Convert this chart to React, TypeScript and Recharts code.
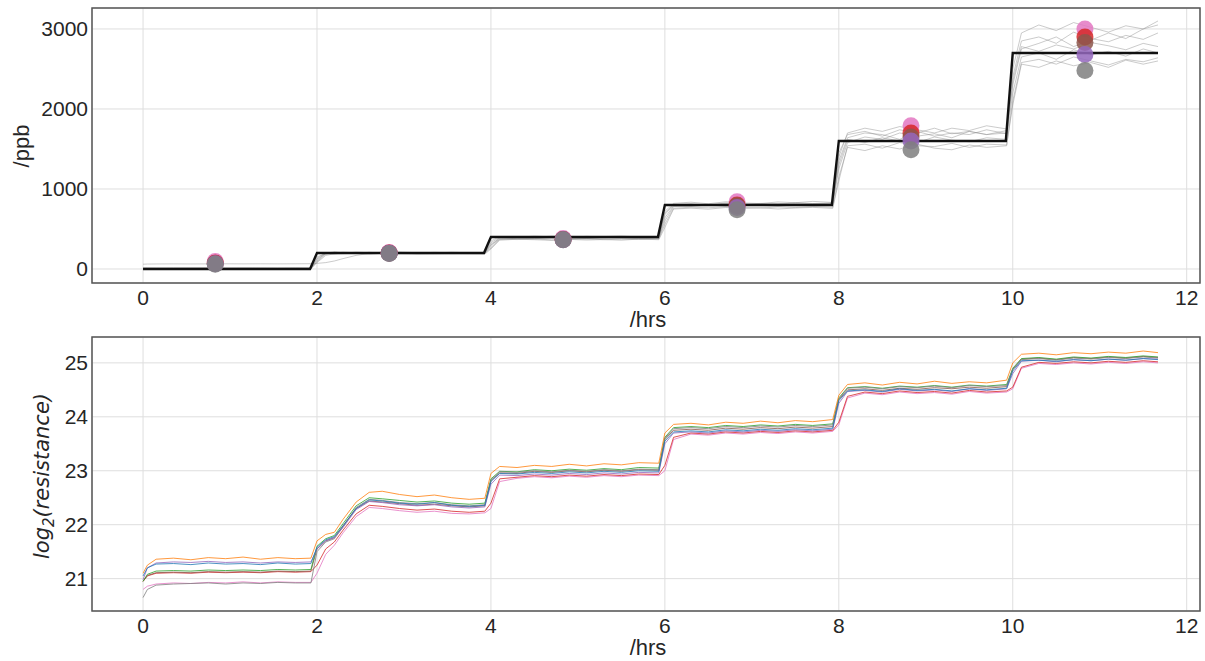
import { ComposedChart, LineChart, Line, Scatter, XAxis, YAxis, CartesianGrid, ReferenceArea, Label } from "recharts"

// shared time grid, hours
const hours = [
  0, 0.05, 0.15, 0.35, 0.55, 0.75, 0.95, 1.15, 1.35, 1.55, 1.75, 1.93,
  2.0, 2.1, 2.2, 2.3, 2.45, 2.6, 2.75, 2.95, 3.15, 3.35, 3.55, 3.75, 3.93,
  4.0, 4.1, 4.3, 4.5, 4.7, 4.9, 5.1, 5.3, 5.5, 5.7, 5.93,
  6.0, 6.1, 6.3, 6.5, 6.7, 6.9, 7.1, 7.3, 7.5, 7.7, 7.93,
  8.0, 8.1, 8.3, 8.5, 8.7, 8.9, 9.1, 9.3, 9.5, 9.7, 9.93,
  10.0, 10.1, 10.3, 10.5, 10.7, 10.9, 11.1, 11.3, 11.5, 11.67,
]

// top panel: set concentration (black step)
const stepHours = [0, 1.92, 2.0, 3.92, 4.0, 5.92, 6.0, 7.92, 8.0, 9.92, 10.0, 11.67]
const stepPpb = [0, 0, 200, 200, 400, 400, 800, 800, 1600, 1600, 2700, 2700]

// top panel: reference analyser traces (grey)
const g1 = [
  60, 62, 63, 64, 63, 64, 65, 64, 65, 64, 65, 66,
  70, 80, 100, 130, 170, 195, 205, 200, 198, 202, 200, 197, 199,
  260, 370, 385, 378, 390, 383, 376, 381, 388, 379, 384,
  600, 780, 790, 805, 812, 798, 806, 820, 810, 815, 822,
  1250, 1580, 1650, 1620, 1700, 1660, 1690, 1640, 1720, 1680, 1700,
  2300, 2750, 2820, 2900, 2780, 2860, 2950, 2880, 3000, 3050,
]
const g2 = [
  5, 8, 6, 10, 7, 9, 6, 8, 10, 7, 9, 8,
  120, 190, 205, 198, 210, 203, 196, 207, 201, 195, 204, 199, 202,
  330, 395, 402, 396, 410, 404, 398, 405, 412, 401, 407,
  700, 805, 815, 798, 826, 812, 820, 808, 830, 818, 826,
  1400, 1700, 1760, 1720, 1780, 1740, 1700, 1760, 1730, 1790, 1750,
  2500, 2950, 3050, 2980, 3080, 3020, 2960, 3040, 3000, 3100,
]
const g3 = [
  0, 2, 0, 3, 1, 0, 2, 1, 0, 2, 1, 0,
  150, 195, 188, 192, 197, 190, 194, 199, 191, 187, 195, 190, 193,
  300, 372, 368, 375, 364, 370, 378, 366, 372, 369, 375,
  560, 760, 772, 765, 778, 770, 762, 775, 768, 780, 772,
  1150, 1520, 1480, 1540, 1500, 1560, 1510, 1490, 1550, 1520, 1540,
  2100, 2580, 2620, 2560, 2650, 2600, 2550, 2620, 2590, 2640,
]
const g4 = [
  10, 12, 9, 11, 13, 10, 12, 11, 9, 12, 10, 11,
  90, 185, 210, 202, 195, 208, 200, 193, 206, 199, 203, 196, 201,
  280, 390, 380, 395, 386, 392, 380, 397, 388, 393, 386,
  640, 790, 782, 800, 788, 810, 795, 785, 803, 797, 808,
  1300, 1620, 1580, 1640, 1600, 1580, 1650, 1610, 1590, 1640, 1620,
  2200, 2650, 2700, 2620, 2740, 2680, 2720, 2660, 2750, 2700,
]
const g5 = [
  3, 5, 4, 6, 2, 5, 4, 3, 6, 4, 5, 3,
  100, 200, 212, 206, 200, 195, 210, 204, 198, 208, 202, 206, 200,
  350, 405, 398, 410, 402, 396, 408, 400, 394, 406, 399,
  720, 820, 835, 815, 840, 825, 818, 838, 828, 845, 832,
  1450, 1680, 1720, 1660, 1740, 1700, 1760, 1690, 1720, 1680, 1730,
  2400, 2850, 2900, 2820, 2960, 2880, 2840, 2920, 2870, 2950,
]
const g6 = [
  0, 0, 1, 0, 2, 1, 0, 1, 2, 0, 1, 0,
  80, 170, 190, 200, 194, 188, 196, 190, 186, 193, 188, 191, 187,
  250, 360, 372, 366, 358, 370, 362, 368, 360, 374, 366,
  520, 750, 760, 748, 768, 756, 765, 750, 762, 770, 758,
  1100, 1540, 1560, 1510, 1580, 1540, 1530, 1570, 1520, 1560, 1550,
  2050, 2560, 2520, 2600, 2540, 2580, 2520, 2610, 2560, 2600,
]
const g7 = [
  15, 14, 16, 13, 15, 17, 14, 16, 15, 13, 16, 14,
  130, 205, 198, 210, 203, 207, 199, 211, 204, 200, 209, 203, 206,
  310, 384, 392, 380, 396, 388, 384, 394, 390, 382, 392,
  680, 800, 808, 795, 815, 802, 810, 798, 818, 806, 814,
  1350, 1640, 1700, 1680, 1620, 1720, 1660, 1700, 1680, 1740, 1690,
  2350, 2780, 2720, 2800, 2750, 2830, 2790, 2740, 2820, 2780,
]
const greyKeys = ["g1", "g2", "g3", "g4", "g5", "g6", "g7"]

// top panel: sensor estimates per step
const dotHours = [0.83, 2.83, 4.83, 6.83, 8.83, 10.83]
const pinkDots = [95, 205, 380, 840, 1790, 3000]
const redDots = [75, 200, 370, 800, 1700, 2900]
const brownDots = [70, 198, 368, 790, 1650, 2830]
const purpleDots = [65, 196, 366, 770, 1600, 2680]
const greyDots = [60, 195, 365, 740, 1490, 2480]

// bottom panel: log2(resistance) per sensor
const orange = [
  21.10, 21.25, 21.36, 21.38, 21.35, 21.39, 21.37, 21.40, 21.36, 21.39, 21.37, 21.38,
  21.70, 21.82, 21.86, 22.10, 22.42, 22.60, 22.62, 22.56, 22.52, 22.55, 22.50, 22.47, 22.49,
  22.95, 23.08, 23.06, 23.10, 23.08, 23.12, 23.09, 23.13, 23.11, 23.15, 23.14,
  23.70, 23.86, 23.88, 23.85, 23.90, 23.88, 23.92, 23.89, 23.93, 23.91, 23.95,
  24.40, 24.60, 24.63, 24.59, 24.64, 24.61, 24.66, 24.62, 24.65, 24.63, 24.68,
  25.00, 25.16, 25.18, 25.15, 25.19, 25.17, 25.20, 25.18, 25.22, 25.19,
]
const blue = [
  21.05, 21.20, 21.27, 21.28, 21.26, 21.29, 21.27, 21.28, 21.26, 21.29, 21.27, 21.28,
  21.58, 21.72, 21.78, 21.98, 22.30, 22.46, 22.44, 22.40, 22.38, 22.41, 22.36, 22.34, 22.36,
  22.80, 22.95, 22.94, 22.97, 22.95, 22.98, 22.96, 22.99, 22.97, 23.00, 22.99,
  23.55, 23.72, 23.74, 23.72, 23.76, 23.74, 23.77, 23.75, 23.78, 23.76, 23.79,
  24.30, 24.48, 24.50, 24.47, 24.52, 24.49, 24.51, 24.48, 24.52, 24.50, 24.53,
  24.85, 25.04, 25.05, 25.03, 25.06, 25.04, 25.07, 25.05, 25.08, 25.06,
]
const purple = [
  20.98, 21.20, 21.29, 21.31, 21.30, 21.32, 21.30, 21.31, 21.29, 21.31, 21.30, 21.31,
  21.55, 21.70, 21.76, 21.95, 22.28, 22.43, 22.41, 22.37, 22.35, 22.37, 22.33, 22.31, 22.33,
  22.75, 22.92, 22.91, 22.94, 22.92, 22.95, 22.93, 22.96, 22.94, 22.97, 22.96,
  23.50, 23.70, 23.72, 23.70, 23.74, 23.72, 23.75, 23.73, 23.76, 23.74, 23.77,
  24.25, 24.47, 24.49, 24.46, 24.51, 24.48, 24.50, 24.47, 24.52, 24.49, 24.52,
  24.80, 25.03, 25.05, 25.02, 25.06, 25.04, 25.07, 25.05, 25.08, 25.07,
]
const green = [
  20.95, 21.08, 21.14, 21.15, 21.14, 21.16, 21.15, 21.16, 21.15, 21.17, 21.16, 21.17,
  21.60, 21.74, 21.80, 22.02, 22.35, 22.50, 22.48, 22.45, 22.42, 22.44, 22.40, 22.38, 22.40,
  22.85, 22.99, 22.98, 23.02, 23.00, 23.03, 23.01, 23.04, 23.02, 23.06, 23.05,
  23.62, 23.80, 23.82, 23.80, 23.84, 23.82, 23.85, 23.83, 23.86, 23.84, 23.87,
  24.35, 24.54, 24.56, 24.53, 24.57, 24.55, 24.58, 24.55, 24.59, 24.57, 24.60,
  24.90, 25.08, 25.10, 25.07, 25.11, 25.09, 25.12, 25.10, 25.13, 25.11,
]
const red = [
  20.95, 21.05, 21.10, 21.11, 21.10, 21.12, 21.11, 21.12, 21.11, 21.13, 21.12, 21.13,
  21.25, 21.55, 21.68, 21.90, 22.20, 22.36, 22.34, 22.30, 22.27, 22.29, 22.25, 22.23, 22.25,
  22.40, 22.85, 22.88, 22.91, 22.89, 22.92, 22.90, 22.93, 22.91, 22.94, 22.93,
  23.10, 23.62, 23.70, 23.68, 23.72, 23.70, 23.73, 23.71, 23.74, 23.72, 23.75,
  23.90, 24.38, 24.46, 24.43, 24.48, 24.45, 24.47, 24.44, 24.49, 24.46, 24.48,
  24.55, 24.92, 25.01, 24.99, 25.02, 25.00, 25.03, 25.01, 25.04, 25.02,
]
const brown = [
  20.95, 21.06, 21.11, 21.12, 21.11, 21.13, 21.12, 21.13, 21.12, 21.14, 21.13, 21.14,
  21.55, 21.70, 21.76, 21.98, 22.30, 22.44, 22.42, 22.39, 22.36, 22.38, 22.35, 22.33, 22.35,
  22.82, 22.96, 22.95, 22.99, 22.97, 23.00, 22.98, 23.01, 22.99, 23.02, 23.01,
  23.58, 23.75, 23.77, 23.75, 23.79, 23.77, 23.80, 23.78, 23.81, 23.79, 23.82,
  24.32, 24.50, 24.52, 24.49, 24.53, 24.51, 24.54, 24.52, 24.55, 24.53, 24.56,
  24.88, 25.07, 25.09, 25.06, 25.10, 25.08, 25.11, 25.09, 25.12, 25.10,
]
const grey = [
  20.65, 20.80, 20.88, 20.90, 20.91, 20.92, 20.90, 20.92, 20.91, 20.93, 20.92, 20.92,
  21.50, 21.68, 21.74, 21.96, 22.32, 22.47, 22.45, 22.41, 22.39, 22.41, 22.37, 22.35, 22.37,
  22.82, 22.98, 22.97, 23.00, 22.98, 23.01, 22.99, 23.02, 23.00, 23.03, 23.02,
  23.60, 23.78, 23.80, 23.78, 23.82, 23.80, 23.83, 23.81, 23.84, 23.82, 23.85,
  24.33, 24.53, 24.55, 24.52, 24.56, 24.54, 24.57, 24.54, 24.58, 24.56, 24.58,
  24.88, 25.06, 25.08, 25.05, 25.09, 25.07, 25.10, 25.08, 25.11, 25.09,
]
const pink = [
  20.80, 20.86, 20.90, 20.92, 20.91, 20.93, 20.92, 20.94, 20.92, 20.94, 20.93, 20.93,
  21.10, 21.45, 21.62, 21.85, 22.15, 22.32, 22.30, 22.26, 22.23, 22.25, 22.21, 22.20, 22.22,
  22.30, 22.80, 22.86, 22.89, 22.87, 22.90, 22.88, 22.91, 22.89, 22.92, 22.91,
  23.00, 23.58, 23.68, 23.66, 23.70, 23.68, 23.71, 23.69, 23.72, 23.70, 23.73,
  23.85, 24.35, 24.44, 24.41, 24.46, 24.43, 24.45, 24.42, 24.47, 24.44, 24.46,
  24.52, 24.90, 24.99, 24.97, 25.00, 24.98, 25.01, 24.99, 25.02, 25.00,
]

const sensors = [
  { key: "pink", color: "#e377c2" },
  { key: "red", color: "#d62728" },
  { key: "brown", color: "#8c564b" },
  { key: "green", color: "#2ca02c" },
  { key: "grey", color: "#7f7f7f" },
  { key: "purple", color: "#9467bd" },
  { key: "blue", color: "#1f77b4" },
  { key: "orange", color: "#ff7f0e" },
]

const hourTicks = [0, 2, 4, 6, 8, 10, 12]
const ppbTicks = [0, 1000, 2000, 3000]
const logTicks = [21, 22, 23, 24, 25]

const topRows = hours.map((h, i) => ({ h, g1: g1[i], g2: g2[i], g3: g3[i], g4: g4[i], g5: g5[i], g6: g6[i], g7: g7[i] }))
const stepRows = stepHours.map((h, i) => ({ h, ppb: stepPpb[i] }))
const dotRows = (vals: number[]) => dotHours.map((h, i) => ({ h, ppb: vals[i] }))
const dotSets = [
  { rows: dotRows(pinkDots), color: "#e377c2" },
  { rows: dotRows(redDots), color: "#d62728" },
  { rows: dotRows(brownDots), color: "#8c564b" },
  { rows: dotRows(purpleDots), color: "#9467bd" },
  { rows: dotRows(greyDots), color: "#7f7f7f" },
]
const bottomRows = hours.map((h, i) => ({
  h, orange: orange[i], blue: blue[i], purple: purple[i], green: green[i],
  red: red[i], brown: brown[i], grey: grey[i], pink: pink[i],
}))

const X_DOMAIN: [number, number] = [-0.587, 12.153]
const PPB_DOMAIN: [number, number] = [-175, 3262]
const LOG_DOMAIN: [number, number] = [20.4, 25.48]

const font = "'Liberation Sans', Arial, sans-serif"
const tickStyle = { fontSize: 21, fill: "#262626", fontFamily: font }
const gridColor = "#dedede"
const frameColor = "#555"

export default function App() {
  return (
    <div style={{ position: "absolute", left: 0, top: 0, width: 1205, height: 661, background: "#fff" }}>
      <div style={{ position: "absolute", left: 0, top: 0 }}>
        <ComposedChart width={1205} height={335} data={topRows} margin={{ top: 8, right: 5, bottom: 0, left: 0 }}>
          <CartesianGrid stroke={gridColor} horizontalPoints={undefined} />
          <XAxis
            dataKey="h"
            type="number"
            domain={X_DOMAIN}
            ticks={hourTicks}
            allowDataOverflow
            height={52}
            axisLine={false}
            tickLine={false}
            tickSize={5}
            tickMargin={2}
            tick={tickStyle}
          >
            <Label content={() => (
              <text x={648} y={327} textAnchor="middle" fontSize={22} fill="#262626" fontFamily={font}>/hrs</text>
            )} />
          </XAxis>
          <YAxis
            type="number"
            domain={PPB_DOMAIN}
            ticks={ppbTicks}
            allowDataOverflow
            width={92}
            axisLine={false}
            tickLine={false}
            tickSize={2}
            tickMargin={2}
            tick={tickStyle}
          >
            <Label content={() => (
              <text x={29} y={146} transform="rotate(-90 29 146)" textAnchor="middle" fontSize={22} fill="#262626" fontFamily={font}>/ppb</text>
            )} />
          </YAxis>
          {greyKeys.map((k) => (
            <Line key={k} dataKey={k} type="linear" stroke="#8c8c8c" strokeOpacity={0.45} strokeWidth={1} dot={false} isAnimationActive={false} />
          ))}
          <Line data={stepRows} dataKey="ppb" type="linear" stroke="#111" strokeWidth={2.4} dot={false} isAnimationActive={false} />
          {dotSets.map((s, i) => (
            <Scatter
              key={i}
              data={s.rows}
              dataKey="ppb"
              fill={s.color}
              isAnimationActive={false}
              shape={(p: any) => <circle cx={p.cx} cy={p.cy} r={8.5} fill={s.color} fillOpacity={0.85} />}
            />
          ))}
          <ReferenceArea x1={X_DOMAIN[0]} x2={X_DOMAIN[1]} y1={PPB_DOMAIN[0]} y2={PPB_DOMAIN[1]} fill="none" fillOpacity={0} stroke={frameColor} strokeWidth={1.5} ifOverflow="visible" />
        </ComposedChart>
      </div>
      <div style={{ position: "absolute", left: 0, top: 330 }}>
        <LineChart width={1205} height={331} data={bottomRows} margin={{ top: 7, right: 5, bottom: 0, left: 0 }}>
          <CartesianGrid stroke={gridColor} />
          <XAxis
            dataKey="h"
            type="number"
            domain={X_DOMAIN}
            ticks={hourTicks}
            allowDataOverflow
            height={50}
            axisLine={false}
            tickLine={false}
            tickSize={5}
            tickMargin={2}
            tick={tickStyle}
          >
            <Label content={() => (
              <text x={648} y={325} textAnchor="middle" fontSize={22} fill="#262626" fontFamily={font}>/hrs</text>
            )} />
          </XAxis>
          <YAxis
            type="number"
            domain={LOG_DOMAIN}
            ticks={logTicks}
            allowDataOverflow
            width={92}
            axisLine={false}
            tickLine={false}
            tickSize={2}
            tickMargin={2}
            tick={tickStyle}
          >
            <Label content={() => (
              <text x={49} y={146} transform="rotate(-90 49 146)" textAnchor="middle" fontSize={21} fill="#262626" fontFamily="'DejaVu Sans', sans-serif" fontStyle="italic">
                <tspan>log</tspan>
                <tspan dy={5} fontSize={15}>2</tspan>
                <tspan dy={-5}>(resistance)</tspan>
              </text>
            )} />
          </YAxis>
          {sensors.map((s) => (
            <Line key={s.key} dataKey={s.key} type="linear" stroke={s.color} strokeOpacity={0.8} strokeWidth={1} dot={false} isAnimationActive={false} />
          ))}
          <ReferenceArea x1={X_DOMAIN[0]} x2={X_DOMAIN[1]} y1={LOG_DOMAIN[0]} y2={LOG_DOMAIN[1]} fill="none" fillOpacity={0} stroke={frameColor} strokeWidth={1.5} ifOverflow="visible" />
        </LineChart>
      </div>
    </div>
  )
}
